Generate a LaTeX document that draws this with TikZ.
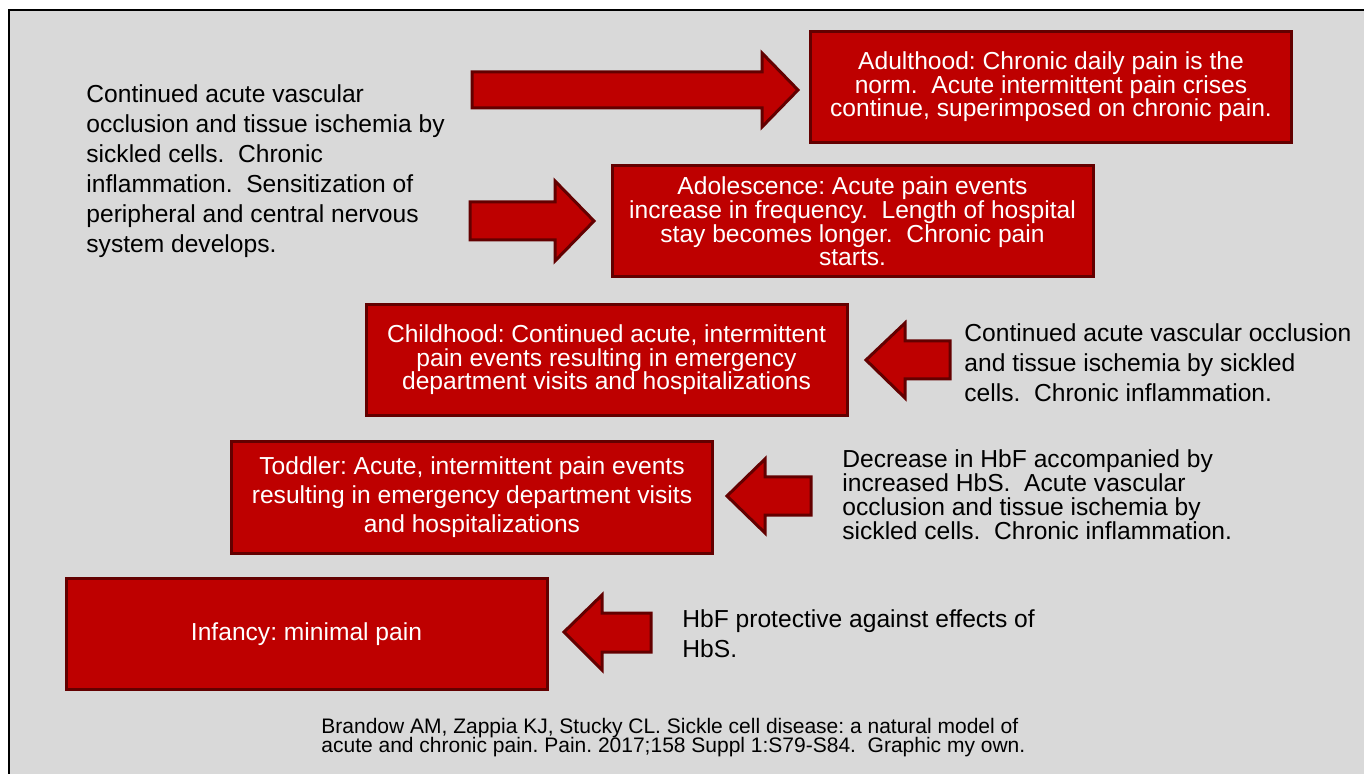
\documentclass[tikz,border=0pt]{standalone}
\usepackage{fontspec}
\setmainfont{Liberation Sans}
\usetikzlibrary{positioning}
\definecolor{stagered}{RGB}{190,0,0}
\definecolor{rimred}{RGB}{99,0,0}
\definecolor{slidegray}{RGB}{217,217,217}
\frenchspacing
\setlength{\lineskiplimit}{-20pt}
\begin{document}
\begin{tikzpicture}[
    x=0.5pt, y=-0.5pt,
    stagebox/.style={draw=rimred, fill=stagered, line width=1.5pt, text=white,
      minimum width=240.5pt, minimum height=55.5pt, inner sep=0pt, align=center,
      font=\fontsize{12.3pt}{11.8pt}\selectfont},
    blockarrow/.style={draw=rimred, fill=stagered, line width=1.5pt, line join=miter},
    note/.style={anchor=north west, inner sep=0pt, align=left,
      font=\fontsize{12.3pt}{15pt}\selectfont},
    tightnote/.style={note, font=\fontsize{12.3pt}{12pt}\selectfont}
    ]
\useasboundingbox (0,0) rectangle (1364,774);
\fill[white] (0,0) rectangle (1364,774);
\clip (0,0) rectangle (1364,774);
\draw[line width=1pt, fill=slidegray] (9,10) rectangle (1390,800);

% stages
\node[stagebox] (adult) at (1051,87) {Adulthood: Chronic daily pain is the\\
  norm.~~Acute intermittent pain crises\\
  continue, superimposed on chronic pain.};
\node[stagebox] (adol) at (852.5,221.5) {Adolescence: Acute pain events\\
  increase in frequency.~~Length of hospital\\
  stay becomes longer.~~Chronic pain\\
  starts.};
\node[stagebox] (child) at (606.5,360) {Childhood: Continued acute, intermittent\\
  pain events resulting in emergency\\
  department visits and hospitalizations};
\node[stagebox, font=\fontsize{12.3pt}{14.5pt}\selectfont] (todd) at (472,497.5)
  {Toddler: Acute, intermittent pain events\\
  resulting in emergency department visits\\
  and hospitalizations};
\node[stagebox] (inf) at (306.5,634) {Infancy: minimal pain};

% arrows
\draw[blockarrow] (472,72) -- (762,72) -- (762,53) -- (798,90) -- (762,127)
  -- (762,108) -- (472,108) -- cycle;
\draw[blockarrow] (470,202) -- (555,202) -- (555,181) -- (594,221) -- (555,261)
  -- (555,240) -- (470,240) -- cycle;
\draw[blockarrow] (950,341) -- (905,341) -- (905,323) -- (866,360) -- (905,398)
  -- (905,379) -- (950,379) -- cycle;
\draw[blockarrow] (811,477) -- (765,477) -- (765,459) -- (727,496) -- (765,533)
  -- (765,515) -- (811,515) -- cycle;
\draw[blockarrow] (651,613) -- (602,613) -- (602,595) -- (564,632) -- (602,670)
  -- (602,652) -- (651,652) -- cycle;

% causes
\node[note] (causeA) at (86,84) {Continued acute vascular\\
  occlusion and tissue ischemia by\\
  sickled cells.~~Chronic\\
  inflammation.~~Sensitization of\\
  peripheral and central nervous\\
  system develops.};
\node[note] (causeC) at (964,323) {Continued acute vascular occlusion\\
  and tissue ischemia by sickled\\
  cells.~~Chronic inflammation.};
\node[tightnote] (causeT) at (842,449) {Decrease in HbF accompanied by\\
  increased HbS.~~Acute vascular\\
  occlusion and tissue ischemia by\\
  sickled cells.~~Chronic inflammation.};
\node[note] (causeI) at (682,609) {HbF protective against effects of\\
  HbS.};

% source
\node[note, font=\fontsize{10.5pt}{9.5pt}\selectfont] (cite) at (321,718)
  {Brandow AM, Zappia KJ, Stucky CL. Sickle cell disease: a natural model of\\
  acute and chronic pain. Pain. 2017;158 Suppl 1:S79-S84.~~Graphic my own.};
\end{tikzpicture}
\end{document}
